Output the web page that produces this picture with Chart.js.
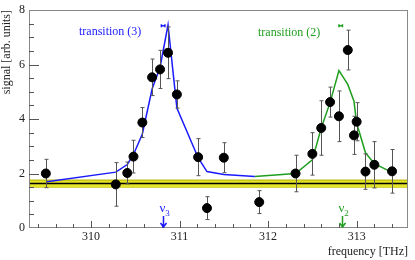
<!DOCTYPE html>
<html>
<head>
<title>Transition signal</title>
<script src="https://cdn.jsdelivr.net/npm/chart.js"></script>
<style>
  body { margin: 0; background: #fff; }
</style>
</head>
<body>
<canvas id="chart" width="415" height="260"></canvas>
<script>
// measured points
const pointFreq   = [309.49, 310.28, 310.41, 310.48, 310.58, 310.69, 310.78, 310.87, 310.97, 311.21, 311.31, 311.50,
                     311.90, 312.31, 312.50, 312.60, 312.70, 312.80, 312.90, 312.97, 313.00, 313.10, 313.20, 313.40];
const pointSignal = [2.00, 1.60, 2.02, 2.62, 3.87, 5.53, 5.82, 6.43, 4.90, 2.60, 0.73, 2.58,
                     0.95, 2.00, 2.72, 3.67, 4.62, 4.10, 6.53, 3.40, 3.90, 2.07, 2.32, 2.08];
const pointErr    = [0.52, 0.80, 0.40, 0.60, 0.55, 0.67, 0.70, 0.95, 0.50, 0.68, 0.42, 0.55,
                     0.42, 0.67, 0.78, 1.00, 0.55, 0.93, 0.73, 0.70, 0.70, 0.65, 0.85, 0.80];

// model curves
const blueFreq    = [309.50, 310.28, 310.41, 310.48, 310.58, 310.69, 310.78, 310.87, 310.97, 311.21, 311.31, 311.50, 311.85];
const blueSignal  = [1.70, 2.05, 2.33, 2.70, 3.45, 5.10, 5.90, 7.45, 4.40, 2.58, 2.07, 1.96, 1.89];
const greenFreq   = [311.85, 312.31, 312.50, 312.60, 312.70, 312.80, 312.90, 312.97, 313.00, 313.10, 313.20, 313.40];
const greenSignal = [1.89, 2.00, 2.50, 3.67, 4.60, 5.78, 5.27, 4.65, 3.85, 2.76, 2.36, 2.04];

// background level and its band
const bgLevel = 1.63;
const bgLow = 1.50;
const bgHigh = 1.76;

// transition positions
const nuFreq = [310.81, 312.83];
const nuIndex = ['3', '2'];
const peakLo = [310.795, 312.80];
const peakHi = [310.835, 312.84];
const peakSignal = [7.42, 7.42];

const xTicks = [310, 311, 312, 313];
const yTicks = [0, 2, 4, 6, 8];
const xMin = 309.3, xMax = 313.58;

const BLUE = '#1a1aff';
const GREEN = '#1f9e1f';
const SERIF = '"Liberation Serif", "DejaVu Serif", serif';

const toXY = (xs, ys) => xs.map((x, i) => ({ x: x, y: ys[i] }));

const errorBars = {
  id: 'errorBars',
  beforeDatasetDraw(chart, args) {
    if (args.index !== 0) return;
    const ctx = chart.ctx, xs = chart.scales.x, ys = chart.scales.y;
    ctx.save();
    ctx.strokeStyle = '#555';
    ctx.lineWidth = 1;
    pointFreq.forEach((f, i) => {
      const px = Math.round(xs.getPixelForValue(f)) + 0.5;
      const top = ys.getPixelForValue(pointSignal[i] + pointErr[i]);
      const bot = ys.getPixelForValue(pointSignal[i] - pointErr[i]);
      ctx.beginPath();
      ctx.moveTo(px, top); ctx.lineTo(px, bot);
      ctx.moveTo(px - 2, top); ctx.lineTo(px + 2, top);
      ctx.moveTo(px - 2, bot); ctx.lineTo(px + 2, bot);
      ctx.stroke();
    });
    ctx.restore();
  }
};

const decorations = {
  id: 'decorations',
  afterDraw(chart) {
    const ctx = chart.ctx, a = chart.chartArea;
    const xs = chart.scales.x, ys = chart.scales.y;
    ctx.save();

    // frame
    ctx.strokeStyle = '#888';
    ctx.lineWidth = 1;
    ctx.strokeRect(a.left + 0.5, a.top + 0.5, a.right - a.left - 1, a.bottom - a.top - 1);

    // inward ticks
    ctx.strokeStyle = '#555';
    ctx.beginPath();
    for (let v = 309.4; v <= xMax; v += 0.2) {
      const r = Math.round(v * 10) / 10;
      const major = Math.abs(r - Math.round(r)) < 1e-6;
      const px = Math.round(xs.getPixelForValue(r)) + 0.5;
      ctx.moveTo(px, a.bottom);
      ctx.lineTo(px, a.bottom - (major ? 7 : 4));
    }
    for (let v = 0.5; v < 8; v += 0.5) {
      const major = Math.abs(v % 2) < 1e-6;
      const py = Math.round(ys.getPixelForValue(v)) + 0.5;
      ctx.moveTo(a.left, py);
      ctx.lineTo(a.left + (major ? 10 : 5), py);
    }
    ctx.stroke();

    // peak position markers
    ctx.lineWidth = 1.5;
    [BLUE, GREEN].forEach((c, i) => {
      const x0 = xs.getPixelForValue(peakLo[i]);
      const x1 = xs.getPixelForValue(peakHi[i]);
      const py = ys.getPixelForValue(peakSignal[i]);
      ctx.strokeStyle = c;
      ctx.beginPath();
      ctx.moveTo(x0, py); ctx.lineTo(x1, py);
      ctx.moveTo(x0, py - 1.5); ctx.lineTo(x0, py + 1.5);
      ctx.moveTo(x1, py - 1.5); ctx.lineTo(x1, py + 1.5);
      ctx.stroke();
    });

    // transition arrows
    [BLUE, GREEN].forEach((c, i) => {
      const px = Math.round(xs.getPixelForValue(nuFreq[i])) + 0.5;
      const yb = a.bottom - 1;
      ctx.strokeStyle = c;
      ctx.fillStyle = c;
      ctx.lineWidth = 1.5;
      ctx.beginPath();
      ctx.moveTo(px, yb - 11); ctx.lineTo(px, yb);
      ctx.moveTo(px - 3, yb - 4); ctx.lineTo(px, yb); ctx.lineTo(px + 3, yb - 4);
      ctx.stroke();
      ctx.textBaseline = 'alphabetic';
      ctx.textAlign = 'center';
      ctx.font = '13px ' + SERIF;
      ctx.fillText('\u03bd', px - 1, yb - 15);
      ctx.font = '9px ' + SERIF;
      ctx.fillText(nuIndex[i], px + 4, yb - 11);
    });

    // curve labels
    ctx.font = '12px ' + SERIF;
    ctx.textAlign = 'left';
    ctx.textBaseline = 'middle';
    ctx.fillStyle = BLUE;
    ctx.fillText('transition (3)', 79, 32);
    ctx.fillStyle = GREEN;
    ctx.fillText('transition (2)', 258, 33);

    ctx.restore();
  }
};

new Chart(document.getElementById('chart'), {
  type: 'scatter',
  data: {
    datasets: [
      { label: 'data', data: toXY(pointFreq, pointSignal),
        pointRadius: 4.5, pointBackgroundColor: '#000', pointBorderColor: '#000', showLine: false },
      { label: 'transition (3)', type: 'line', data: toXY(blueFreq, blueSignal),
        borderColor: BLUE, borderWidth: 1.5, pointRadius: 0, tension: 0, fill: false },
      { label: 'transition (2)', type: 'line', data: toXY(greenFreq, greenSignal),
        borderColor: GREEN, borderWidth: 1.5, pointRadius: 0, tension: 0, fill: false },
      { label: 'background', type: 'line', data: [{ x: xMin, y: bgLevel }, { x: xMax, y: bgLevel }],
        borderColor: '#000', borderWidth: 1.5, pointRadius: 0, fill: false },
      { label: 'band high', type: 'line', data: [{ x: xMin, y: bgHigh }, { x: xMax, y: bgHigh }],
        borderColor: '#b3b300', borderWidth: 1, pointRadius: 0, fill: '+1', backgroundColor: '#e3e32a' },
      { label: 'band low', type: 'line', data: [{ x: xMin, y: bgLow }, { x: xMax, y: bgLow }],
        borderColor: '#b3b300', borderWidth: 1, pointRadius: 0, fill: false }
    ]
  },
  options: {
    responsive: false,
    animation: false,
    layout: { padding: { left: 1, right: 7, top: 7, bottom: 0 } },
    plugins: { legend: { display: false }, tooltip: { enabled: false } },
    scales: {
      x: {
        type: 'linear', min: xMin, max: xMax,
        grid: { display: false, drawTicks: false },
        border: { display: false },
        afterBuildTicks: s => { s.ticks = xTicks.map(v => ({ value: v })); },
        ticks: { color: '#222', font: { family: SERIF, size: 12, lineHeight: 1 }, padding: 3, maxRotation: 0 },
        title: { display: true, text: 'frequency [THz]', align: 'end', color: '#222',
                 font: { family: SERIF, size: 12, lineHeight: 1 }, padding: { top: 0, bottom: 2 } }
      },
      y: {
        min: 0, max: 8,
        grid: { display: false, drawTicks: false },
        border: { display: false },
        afterBuildTicks: s => { s.ticks = yTicks.map(v => ({ value: v })); },
        ticks: { color: '#222', font: { family: SERIF, size: 12, lineHeight: 1 }, padding: 4 },
        title: { display: true, text: 'signal [arb. units]', align: 'end', color: '#222',
                 font: { family: SERIF, size: 12, lineHeight: 1 }, padding: { top: 0, bottom: 2 } }
      }
    }
  },
  plugins: [errorBars, decorations]
});
</script>
</body>
</html>
